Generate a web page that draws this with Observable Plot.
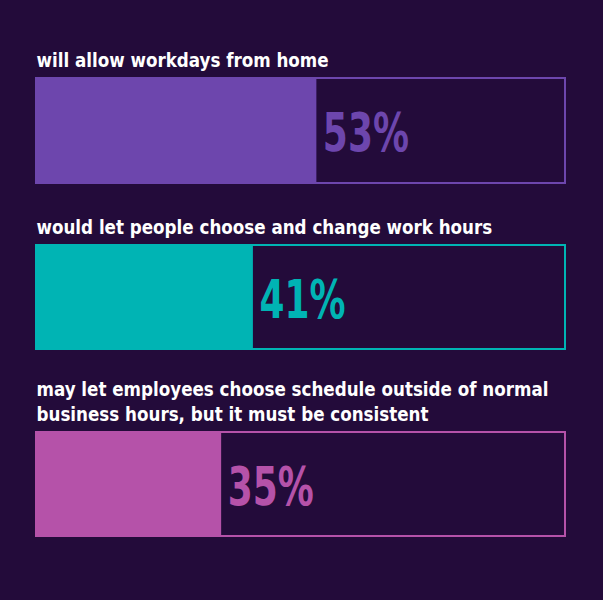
<!DOCTYPE html>
<html>
<head>
<meta charset="utf-8">
<script src="https://cdn.jsdelivr.net/npm/d3@7"></script>
<script src="https://cdn.jsdelivr.net/npm/@observablehq/plot@0.6"></script>
<style>
  html, body { margin: 0; padding: 0; background: #230b3a; }
  #chart { width: 603px; height: 600px; background: #230b3a; overflow: hidden; }
  #chart svg { display: block; }
</style>
</head>
<body>
<div id="chart"></div>
<script>
const labels = [
  "will allow workdays from home",
  "would let people choose and change work hours",
  "may let employees choose schedule outside of normal\nbusiness hours, but it must be consistent"
];
const values = [53, 41, 35];
const valueLabels = ["53%", "41%", "35%"];
const colors = ["#6d46ad", "#00b4b4", "#b552a9"];

const bg = "#230b3a";
const font = "'Liberation Sans Narrow', 'DejaVu Sans Condensed', 'Arial Narrow', sans-serif";
const tops = [78, 62, 83];
const barH = [105, 104, 104];
const pctSize = 54;

const container = document.getElementById("chart");
labels.forEach((label, i) => {
  const row = [{label, value: values[i], text: valueLabels[i], color: colors[i]}];
  const chart = Plot.plot({
    width: 603,
    height: tops[i] + barH[i],
    marginLeft: 36,
    marginRight: 38,
    marginTop: tops[i],
    marginBottom: 0,
    style: {background: bg, overflow: "visible"},
    x: {domain: [0, 100], axis: null},
    y: {domain: [label], axis: null, padding: 0},
    marks: [
      Plot.barX(row, {x1: 0, x2: d => d.value, y: "label", fill: "color", inset: 0}),
      Plot.barX(row, {x1: 0, x2: 100, y: "label", fill: "none", stroke: "color", strokeWidth: 2, inset: 0}),
      Plot.text(row, {
        text: "label", frameAnchor: "top-left",
        textAnchor: "start", lineAnchor: "bottom", dy: -12,
        fill: "#ffffff", fontSize: 18.6, fontWeight: "bold", fontFamily: font,
        lineHeight: 1.3
      }),
      Plot.text(row, {
        x: "value", y: "label", text: "text",
        textAnchor: "start", lineAnchor: "middle", dx: 6, dy: 3,
        fill: "color", fontSize: pctSize, fontWeight: "bold", fontFamily: font
      })
    ]
  });
  chart.querySelectorAll(`g[font-size="${pctSize}"] text`).forEach(t => {
    t.setAttribute("transform", (t.getAttribute("transform") || "") + " scale(0.74,1)");
  });
  container.appendChild(chart);
});
</script>
</body>
</html>
